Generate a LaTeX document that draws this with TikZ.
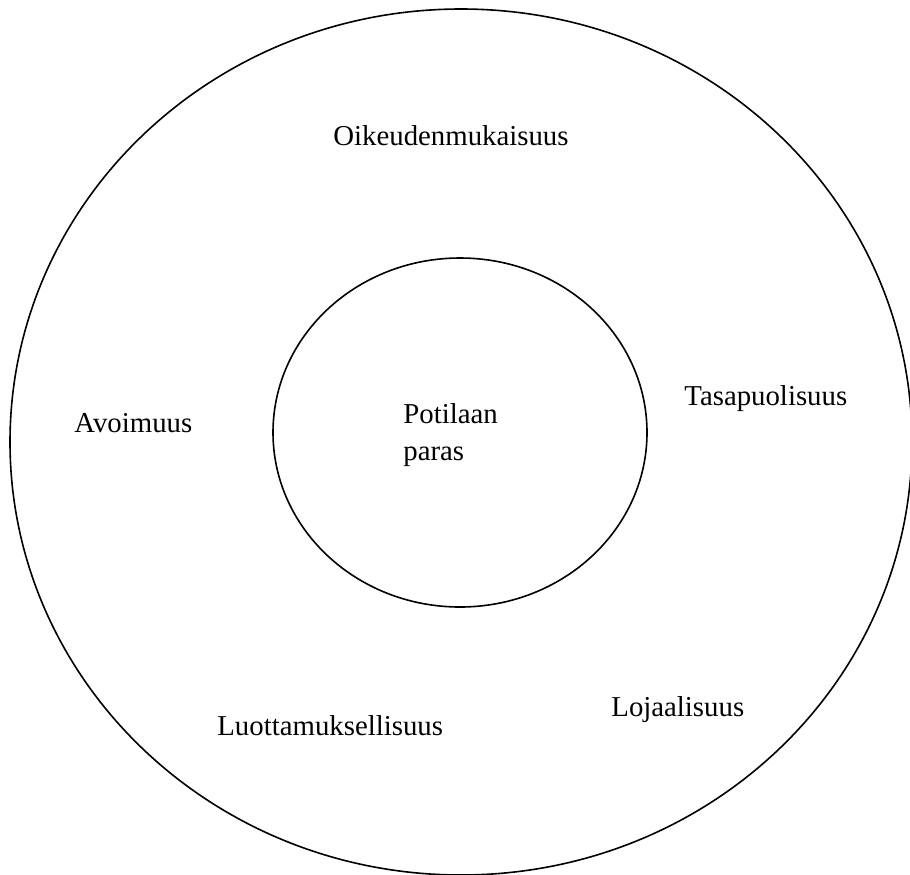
\documentclass[tikz,border=0pt]{standalone}
\usepackage{fontspec}
\setmainfont{Liberation Serif}
\usetikzlibrary{positioning}
\tikzset{
x=0.5pt, y=-0.5pt, % one unit is one pixel of the page
ring/.style={draw, line width=0.8pt}, % sets the look of both rings
value/.style={anchor=base west, inner sep=0pt, font=\fontsize{14.4}{18.5}\selectfont}, % sets the look of each label
}

\begin{document}
\begin{tikzpicture}
            \useasboundingbox (0,0) rectangle (910,874);
            \clip (0,0) rectangle (910,874);
            \coordinate (centre) at (461,442);
            \coordinate (core) at (460,432.5);
            \draw[ring] (centre) ellipse[x radius=451, y radius=433];
            \draw[ring] (core) ellipse[x radius=187, y radius=174.5];
            \node[value] (best) at (403,423) {Potilaan};
            \node[value] (bestb) at (403,460) {paras};
            \node[value] (justice) at (333,145) {Oikeudenmukaisuus};
            \node[value] (openness) at (74,432) {Avoimuus};
            \node[value] (fairness) at (684,405) {Tasapuolisuus};
            \node[value] (trust) at (217,735) {Luottamuksellisuus};
            \node[value] (loyalty) at (611,716) {Lojaalisuus};
        \end{tikzpicture}
\end{document}
